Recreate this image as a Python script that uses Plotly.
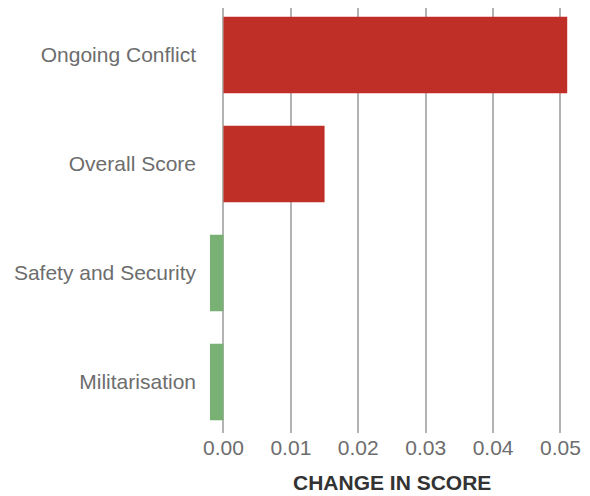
import plotly.graph_objects as go

categories = ["Ongoing Conflict", "Overall Score", "Safety and Security", "Militarisation"]
values = [0.051, 0.015, -0.002, -0.002]
colors = ["#bf2f27", "#bf2f27", "#79b074", "#79b074"]
tick_vals = [0, 0.01, 0.02, 0.03, 0.04, 0.05]
tick_text = ["0.00", "0.01", "0.02", "0.03", "0.04", "0.05"]
x_title = "CHANGE IN SCORE"

fig = go.Figure(go.Bar(
    x=values, y=categories, orientation="h",
    marker=dict(color=colors, line=dict(width=0)),
    hoverinfo="x+y",
))

font_family = "Liberation Sans, Arial, Helvetica, sans-serif"
W, H = 590, 496
ml, mr, mt, mb = 205, 5, 8, 63

fig.update_layout(
    width=W, height=H,
    margin=dict(l=ml, r=mr, t=mt, b=mb, autoexpand=False),
    paper_bgcolor="white", plot_bgcolor="white",
    bargap=0.3,
    showlegend=False,
    font=dict(family=font_family, size=21, color="#6d6d6d"),
    xaxis=dict(
        range=[-0.00274, 0.05364],
        tickvals=tick_vals, ticktext=tick_text,
        showgrid=True, gridcolor="#b3b3b3", gridwidth=1.5,
        zeroline=False, showline=False,
        ticks="", automargin=False,
        tickfont=dict(size=21, color="#6d6d6d"),
    ),
    yaxis=dict(
        type="category",
        categoryorder="array", categoryarray=categories,
        range=[3.468, -0.431],
        showgrid=False, zeroline=False, showline=False,
        ticks="", automargin=False, ticklabelstandoff=8,
        tickfont=dict(size=21, color="#6d6d6d"),
    ),
    annotations=[dict(
        text="<b>" + x_title + "</b>",
        x=((223.5 + 560) / 2 - ml) / (W - ml - mr), xref="paper", xanchor="center",
        y=0, yref="paper", yanchor="middle", yshift=-(482 - (H - mb)),
        showarrow=False,
        font=dict(size=21, color="#333333", family=font_family),
    )],
)

fig.write_html("out.html", config={"displayModeBar": False},
               post_script="document.body.style.margin='0';")
